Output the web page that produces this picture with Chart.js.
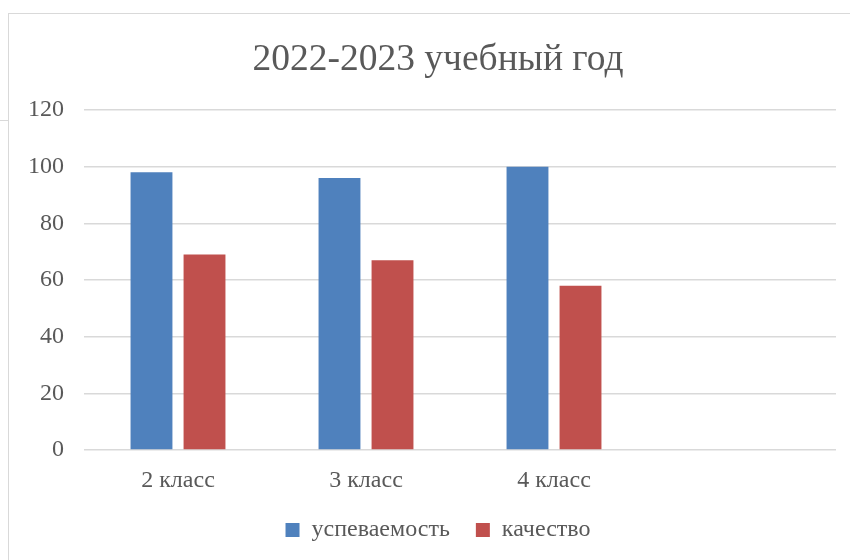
<!DOCTYPE html>
<html>
<head>
<meta charset="utf-8">
<script src="https://cdn.jsdelivr.net/npm/chart.js@4/dist/chart.umd.min.js"></script>
<style>
  html, body { margin: 0; padding: 0; background: #fff; overflow: hidden; width: 850px; height: 560px; }
  #frame { position: absolute; left: 8px; top: 13px; width: 858px; height: 560px; border-left: 1px solid #d9d9d9; border-top: 1px solid #d9d9d9; }
  #stub { position: absolute; left: 0; top: 120px; width: 8px; height: 1px; background: #d9d9d9; }
</style>
</head>
<body>
<div id="stub"></div>
<div id="frame"><canvas id="myChart"></canvas></div>
<script>
const classNames = ["2 класс", "3 класс", "4 класс", ""];
const progress = [98, 96, 100, null];
const quality = [69, 67, 58, null];
const yTicks = [0, 20, 40, 60, 80, 100, 120];

function setGraph() {
  const canvas = document.getElementById("myChart");
  canvas.width = 858;
  canvas.height = 547;
  const textColor = "#595959";
  const fontFamily = "'Liberation Serif', 'Times New Roman', serif";

  new Chart(canvas, {
    type: "bar",
    data: {
      labels: classNames,
      datasets: [{
        label: "успеваемость",
        backgroundColor: "#4f81bd",
        data: progress
      }, {
        label: "качество",
        backgroundColor: "#c0504d",
        data: quality
      }]
    },
    options: {
      responsive: false,
      animation: false,
      layout: { padding: { left: 0, right: 0, top: 0, bottom: 9 } },
      datasets: { bar: { categoryPercentage: 0.564, barPercentage: 0.79 } },
      plugins: {
        title: {
          display: true,
          text: "2022-2023 учебный год",
          color: textColor,
          font: { family: fontFamily, size: 37.5, weight: "normal", lineHeight: 1.2 },
          padding: { top: 24, bottom: 27 }
        },
        legend: {
          position: "bottom",
          labels: {
            color: textColor,
            font: { family: fontFamily, size: 24 },
            boxWidth: 14,
            boxHeight: 14,
            padding: 26
          }
        },
        tooltip: { enabled: false }
      },
      scales: {
        x: {
          grid: { display: false },
          border: { display: false },
          ticks: { color: textColor, font: { family: fontFamily, size: 24 }, padding: 8 },
          afterFit: (scale) => { scale.height = 42; }
        },
        y: {
          min: 0,
          max: 120,
          afterBuildTicks: (scale) => { scale.ticks = yTicks.map(v => ({ value: v })); },
          grid: { color: "#d9d9d9", lineWidth: 1.5, drawTicks: false },
          border: { display: false },
          ticks: { color: textColor, font: { family: fontFamily, size: 24 }, padding: 20 },
          afterFit: (scale) => { scale.width = 75; }
        },
        // empty right margin, keeps the title and legend centred on the frame
        yRight: {
          position: "right",
          min: 0,
          max: 120,
          grid: { display: false },
          border: { display: false },
          ticks: { display: false },
          afterFit: (scale) => { scale.width = 31; }
        }
      }
    }
  });
}

window.onload = () => {
  setGraph();
};
</script>
</body>
</html>
